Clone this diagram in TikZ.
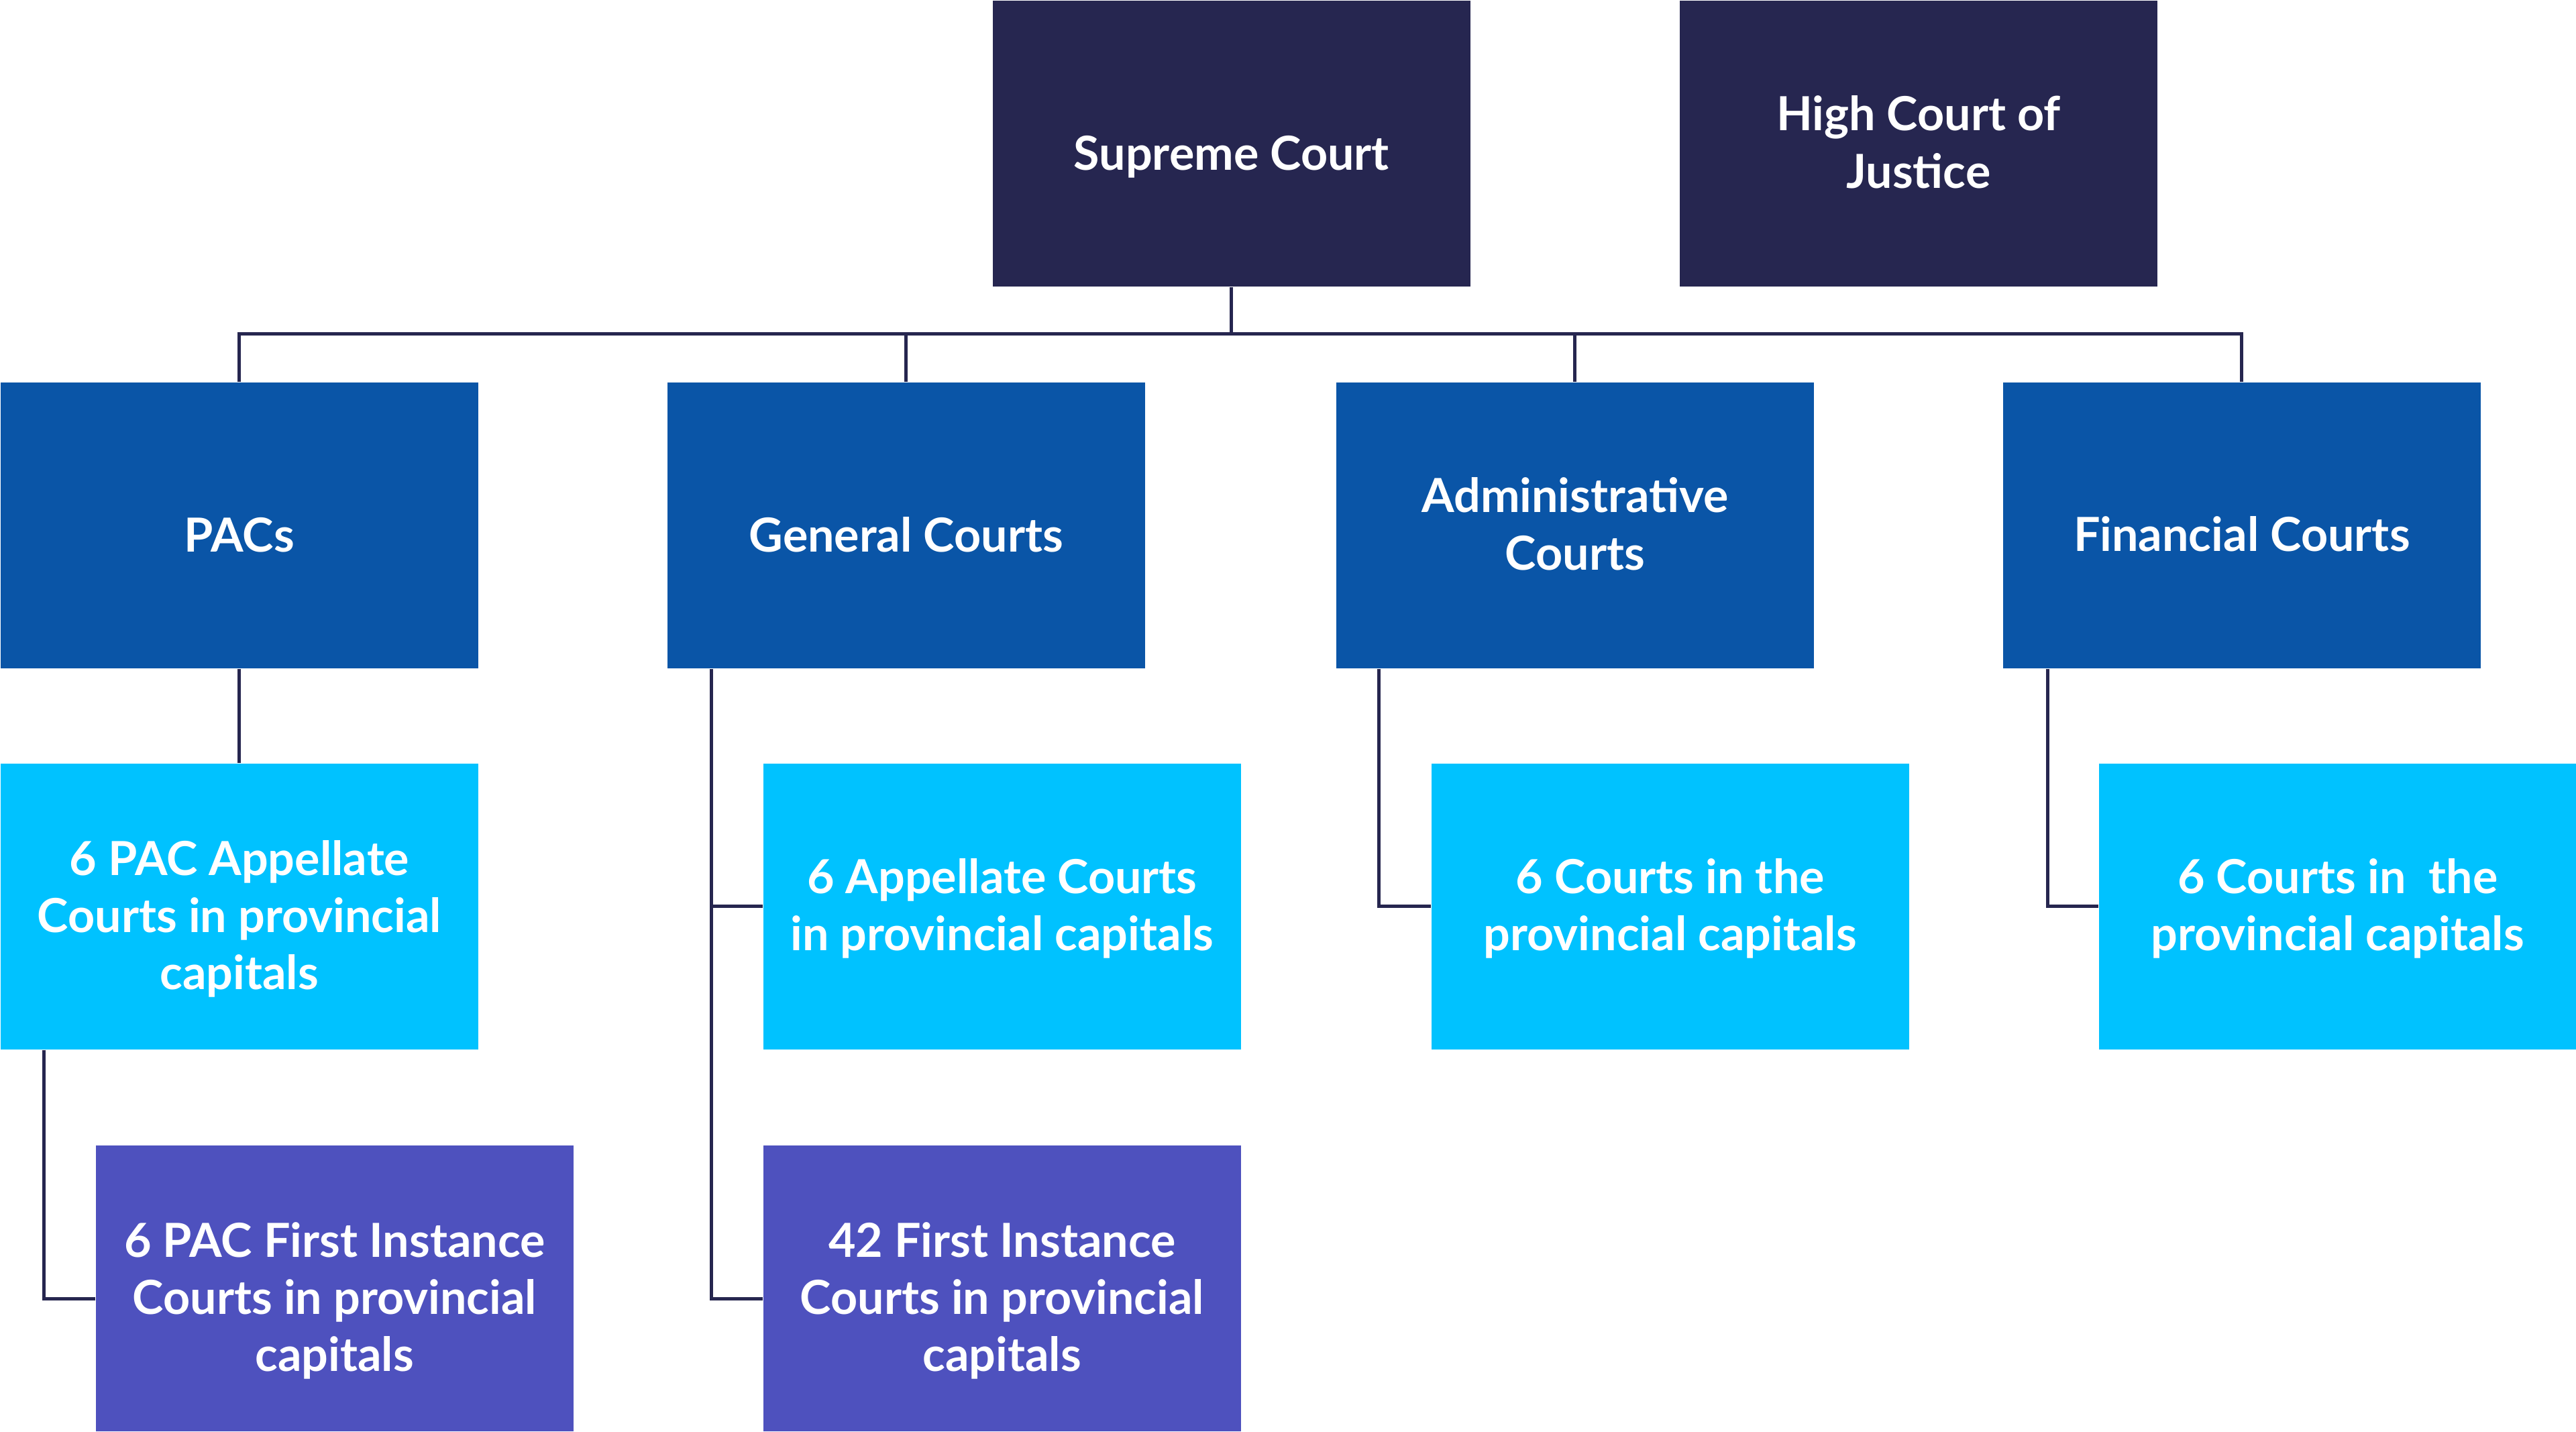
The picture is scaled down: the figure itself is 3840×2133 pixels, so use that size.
\documentclass[tikz,border=0pt]{standalone}
\usepackage{fontspec}
\setmainfont{Lato}
\definecolor{cTop}{HTML}{262650}
\definecolor{cMid}{HTML}{0A55A7}
\definecolor{cLow}{HTML}{00C2FF}
\definecolor{cBot}{HTML}{4E51BE}
\definecolor{cLine}{HTML}{26264F}
\tikzset{
  box/.style={rectangle, inner sep=0pt, minimum width=178pt, minimum height=106.5pt,
    anchor=north west},
  lbl/.style={align=center, text=white, inner sep=0pt,
    font=\fontsize{17.5}{21.3}\selectfont\bfseries},
  topbox/.style={box, fill=cTop},
  midbox/.style={box, fill=cMid},
  lowbox/.style={box, fill=cLow},
  botbox/.style={box, fill=cBot},
  conn/.style={draw=cLine, line width=1.25pt}
}
\begin{document}
\begin{tikzpicture}[x=0.25pt,y=-0.25pt]
\useasboundingbox (0,0) rectangle (3840,2133);
\node[topbox, label={[lbl, yshift=-4.9pt]center:Supreme Court}] (sup) at (1479,0) {};
\node[topbox, label={[lbl, yshift=0.5pt]center:High Court of\\Justice}] (hcj) at (2503,0) {};
\node[midbox, label={[lbl, yshift=-3.6pt]center:PACs}] (pac) at (0,569) {};
\node[midbox, label={[lbl, yshift=-3.6pt]center:General Courts}] (gen) at (994,569) {};
\node[midbox, label={[lbl, yshift=0.5pt]center:Administrative\\Courts}] (adm) at (1991,569) {};
\node[midbox, label={[lbl, yshift=-3.3pt]center:Financial Courts}] (fin) at (2985,569) {};
\node[lowbox, label={[lbl, yshift=-4.6pt]center:6 PAC Appellate\\Courts in provincial\\capitals}] (pacA) at (0,1137) {};
\node[lowbox, label={[lbl, yshift=-0.8pt]center:6 Appellate Courts\\in provincial capitals}] (genA) at (1137,1137) {};
\node[lowbox, label={[lbl, yshift=-0.8pt]center:6 Courts in the\\provincial capitals}] (admA) at (2133,1137) {};
\node[lowbox, label={[lbl, yshift=-0.8pt]center:6 Courts in\ \ the\\provincial capitals}] (finA) at (3128,1137) {};
\node[botbox, label={[lbl, yshift=-4.6pt]center:6 PAC First Instance\\Courts in provincial\\capitals}] (pacF) at (142,1706) {};
\node[botbox, label={[lbl, yshift=-4.6pt]center:42 First Instance\\Courts in provincial\\capitals}] (genF) at (1137,1706) {};
\coordinate (busY) at (0,497);
\draw[conn] (sup.south) -- (sup.south |- busY);
\draw[conn] (pac.north) -- (pac.north |- busY) -- (fin.north |- busY) -- (fin.north);
\draw[conn] (gen.north) -- (gen.north |- busY);
\draw[conn] (adm.north) -- (adm.north |- busY);
\draw[conn] (pac.south) -- (pacA.north);
\draw[conn] ([xshift=16.25pt]pacA.south west) |- ([yshift=-4pt]pacF.west);
\coordinate (gv) at ([xshift=16.5pt]gen.south west);
\draw[conn] (gv) |- ([yshift=-4pt]genF.west);
\draw[conn] (gv |- genA.west) -- (genA.west);
\draw[conn] ([xshift=16pt]adm.south west) |- (admA.west);
\draw[conn] ([xshift=16.75pt]fin.south west) |- (finA.west);
\end{tikzpicture}
\end{document}
